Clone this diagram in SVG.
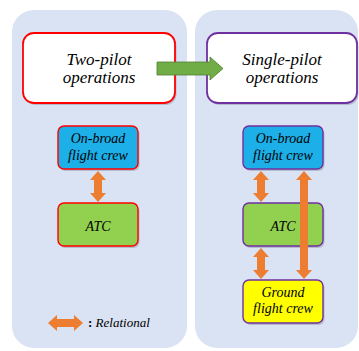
<svg xmlns="http://www.w3.org/2000/svg" width="359" height="351" viewBox="0 0 359 351">
<style>
.panel{fill:#DAE3F3;}
.big{fill:#fff;stroke-width:1.8;}
.small{stroke-width:1.4;}
.shd{fill:#8E95A3;opacity:0.5;}
.red{stroke:#FF0000;}
.pur{stroke:#7030A0;}
.t{font-family:'Liberation Serif','Times New Roman',serif;font-style:italic;fill:#000;text-anchor:middle;}
.tb{font-size:17px;}
.ts{font-size:14px;}
.rel{fill:#ED7D31;}
</style>
<rect x="0" y="0" width="359" height="351" fill="#fff"/>
<rect class="panel" x="12" y="10" width="175" height="338" rx="22"/>
<rect class="panel" x="195" y="10" width="163" height="338" rx="22"/>

<g id="two-pilot">
<rect class="shd" x="24.5" y="35" width="152" height="70" rx="11"/>
<rect class="big red" x="23" y="33" width="152" height="70" rx="11"/>
<text class="t tb" x="99" y="65">Two-pilot</text>
<text class="t tb" x="99" y="83">operations</text>
</g>
<g id="single-pilot">
<rect class="shd" x="208.5" y="35" width="150" height="70" rx="11"/>
<rect class="big pur" x="207" y="33" width="150" height="70" rx="11"/>
<text class="t tb" x="282" y="65">Single-pilot</text>
<text class="t tb" x="282" y="83">operations</text>
</g>

<g id="left-crew">
<rect class="shd" x="59.5" y="128" width="80" height="43" rx="6"/>
<rect class="small red" x="58" y="126" width="80" height="43" rx="6" fill="#1CAFE8"/>
<text class="t ts" x="98" y="143">On-broad</text>
<text class="t ts" x="98" y="160">flight crew</text>
</g>
<g id="left-atc">
<rect class="shd" x="59.5" y="205" width="80" height="43" rx="6"/>
<rect class="small red" x="58" y="203" width="80" height="43" rx="6" fill="#92D050"/>
<text class="t ts" x="98" y="231">ATC</text>
</g>

<g id="right-crew">
<rect class="shd" x="244.5" y="128" width="80" height="43" rx="6"/>
<rect class="small pur" x="243" y="126" width="80" height="43" rx="6" fill="#1CAFE8"/>
<text class="t ts" x="283" y="143">On-broad</text>
<text class="t ts" x="283" y="160">flight crew</text>
</g>
<g id="right-atc">
<rect class="shd" x="244.5" y="205" width="80" height="43" rx="6"/>
<rect class="small pur" x="243" y="203" width="80" height="43" rx="6" fill="#92D050"/>
<text class="t ts" x="283" y="231">ATC</text>
</g>
<g id="ground-crew">
<rect class="shd" x="244.5" y="282" width="80" height="43" rx="6"/>
<rect class="small pur" x="243" y="280" width="80" height="43" rx="6" fill="#FFFF00"/>
<text class="t ts" x="283" y="297">Ground</text>
<text class="t ts" x="283" y="313">flight crew</text>
</g>

<g id="connectors">
<polygon points="157,62 210,62 210,57 223,68.5 210,80 210,75 157,75" fill="#70AD47" stroke="#507E32" stroke-width="0.8"/>
<polygon class="rel" points="98,171 106,180 102,180 102,193 106,193 98,202 90,193 94,193 94,180 90,180"/>
<polygon class="rel" points="261,171 269,180 265,180 265,193 269,193 261,202 253,193 257,193 257,180 253,180"/>
<polygon class="rel" points="261,248 269,257 265,257 265,270 269,270 261,279 253,270 257,270 257,257 253,257"/>
<polygon class="rel" points="304,171 312,180 308,180 308,270 312,270 304,279 296,270 300,270 300,180 296,180"/>
</g>

<g id="legend">
<polygon class="rel" points="48,323 57,315 57,319 74,319 74,315 83,323 74,331 74,327 57,327 57,331"/>
<text x="88" y="327" font-family="Liberation Serif" font-size="13" fill="#000"><tspan font-weight="bold">:</tspan><tspan font-style="italic"> Relational</tspan></text>
</g>
</svg>
